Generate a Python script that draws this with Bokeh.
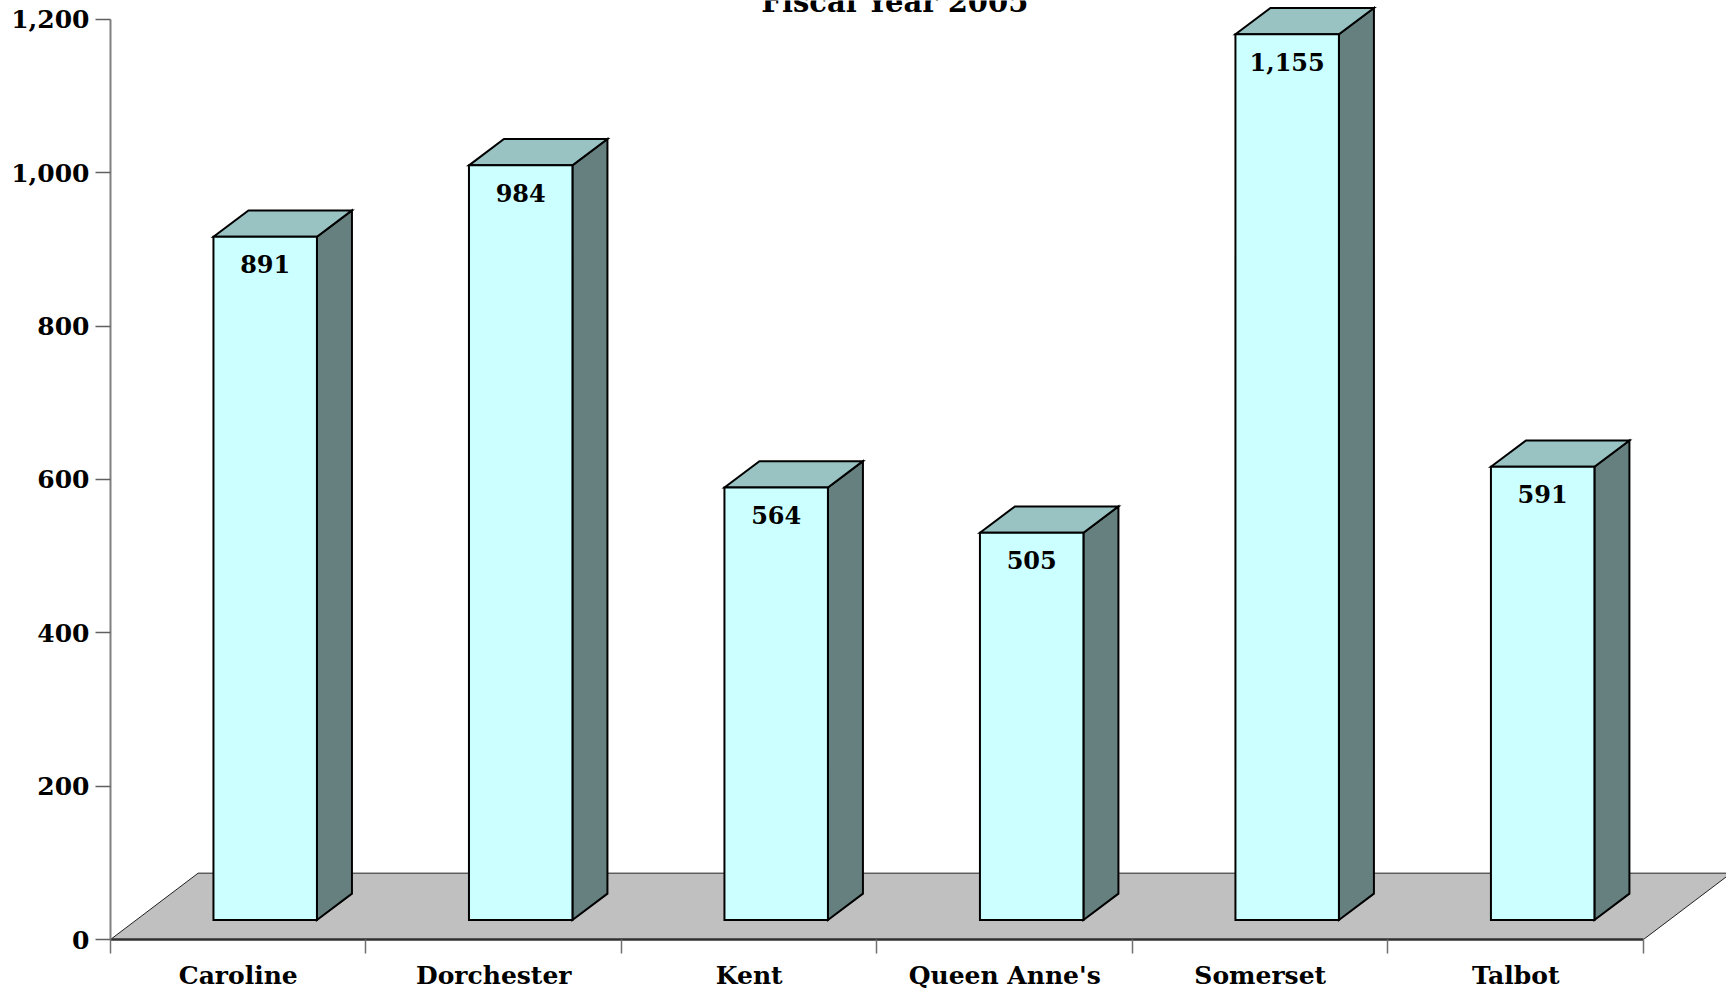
from bokeh.plotting import figure
from bokeh.models import Range1d, FixedTicker, NumeralTickFormatter, Label
from bokeh.core.properties import value
from bokeh.embed import file_html
from bokeh.resources import INLINE

categories = ["Caroline", "Dorchester", "Kent", "Queen Anne's", "Somerset", "Talbot"]
counts = [891, 984, 564, 505, 1155, 591]
y_ticks = [0, 200, 400, 600, 800, 1000, 1200]
title_text = "Fiscal Year 2005"

FONT = "DejaVu Serif"
# geometry (data units)
face_l, face_r = 0.403, 0.808   # front face position inside a category slot
base = 25.5                     # front face rises from floor
ddx, ddy = 0.137, 34.3          # bar depth offset
fdx, fdy = 0.343, 86.5          # floor depth offset

p = figure(frame_width=1616, frame_height=939,
           min_border_left=110, min_border_right=0, min_border_top=0, min_border_bottom=53,
           x_range=Range1d(0, 6.325), y_range=Range1d(0, 1224.5),
           output_backend="svg", toolbar_location=None)
p.outline_line_color = None
p.xgrid.visible = False
p.ygrid.visible = False
p.background_fill_color = "white"
p.border_fill_color = "white"

n = len(categories)
# floor
p.patch([0, n, n + fdx, fdx], [0, 0, fdy, fdy], fill_color="#C0C0C0",
        line_color="#202020", line_width=1)

lefts = [i + face_l for i in range(n)]
rights = [i + face_r for i in range(n)]
tops = [base + v for v in counts]

side_xs = [[r, r + ddx, r + ddx, r] for r in rights]
side_ys = [[base, base + ddy, t + ddy, t] for t in tops]
top_xs = [[l, l + ddx, r + ddx, r] for l, r in zip(lefts, rights)]
top_ys = [[t, t + ddy, t + ddy, t] for t in tops]

p.patches(side_xs, side_ys, fill_color="#668080", line_color="black", line_width=2, line_join="miter")
p.patches(top_xs, top_ys, fill_color="#99C2C2", line_color="black", line_width=2, line_join="miter")
p.quad(left=lefts, right=rights, bottom=[base] * n, top=tops,
       fill_color="#CCFFFF", line_color="black", line_width=2, line_join="miter")

labels = [f"{v:,}" for v in counts]
p.text(x=[(l + r) / 2 for l, r in zip(lefts, rights)], y=[t - 36 for t in tops], text=labels,
       text_align="center", text_baseline="middle", text_font=value(FONT),
       text_font_style="bold", text_font_size="24px", text_color="black")

# axes
xa = p.xaxis[0]
xa.ticker = FixedTicker(ticks=[i + 0.5 for i in range(n)], minor_ticks=list(range(n + 1)))
xa.major_label_overrides = {i + 0.5: c for i, c in enumerate(categories)}
xa.bounds = (0, n)
xa.axis_line_color = "#303030"
xa.axis_line_width = 2.5
xa.major_tick_out = 0
xa.major_tick_in = 0
xa.minor_tick_out = 14
xa.minor_tick_in = 0
xa.minor_tick_line_color = "#707070"
xa.minor_tick_line_width = 1.5
xa.major_label_standoff = 7
xa.major_label_text_font = FONT
xa.major_label_text_font_style = "bold"
xa.major_label_text_font_size = "25px"
xa.major_label_text_color = "black"

ya = p.yaxis[0]
ya.ticker = FixedTicker(ticks=y_ticks)
ya.bounds = (0, 1200)
ya.formatter = NumeralTickFormatter(format="0,0")
ya.axis_line_color = "#808080"
ya.axis_line_width = 2
ya.major_tick_out = 15
ya.major_tick_in = 0
ya.major_tick_line_color = "#606060"
ya.major_tick_line_width = 1.5
ya.minor_tick_out = 0
ya.minor_tick_in = 0
ya.major_label_standoff = 6
ya.major_label_text_font = FONT
ya.major_label_text_font_style = "bold"
ya.major_label_text_font_size = "25px"
ya.major_label_text_color = "black"

p.add_layout(Label(x=3.07, y=1223, text=title_text, text_align="center",
                   text_baseline="alphabetic", text_font=FONT, text_font_style="bold",
                   text_font_size="29px", text_color="black"))

open("out.html", "w").write(file_html(p, INLINE))
